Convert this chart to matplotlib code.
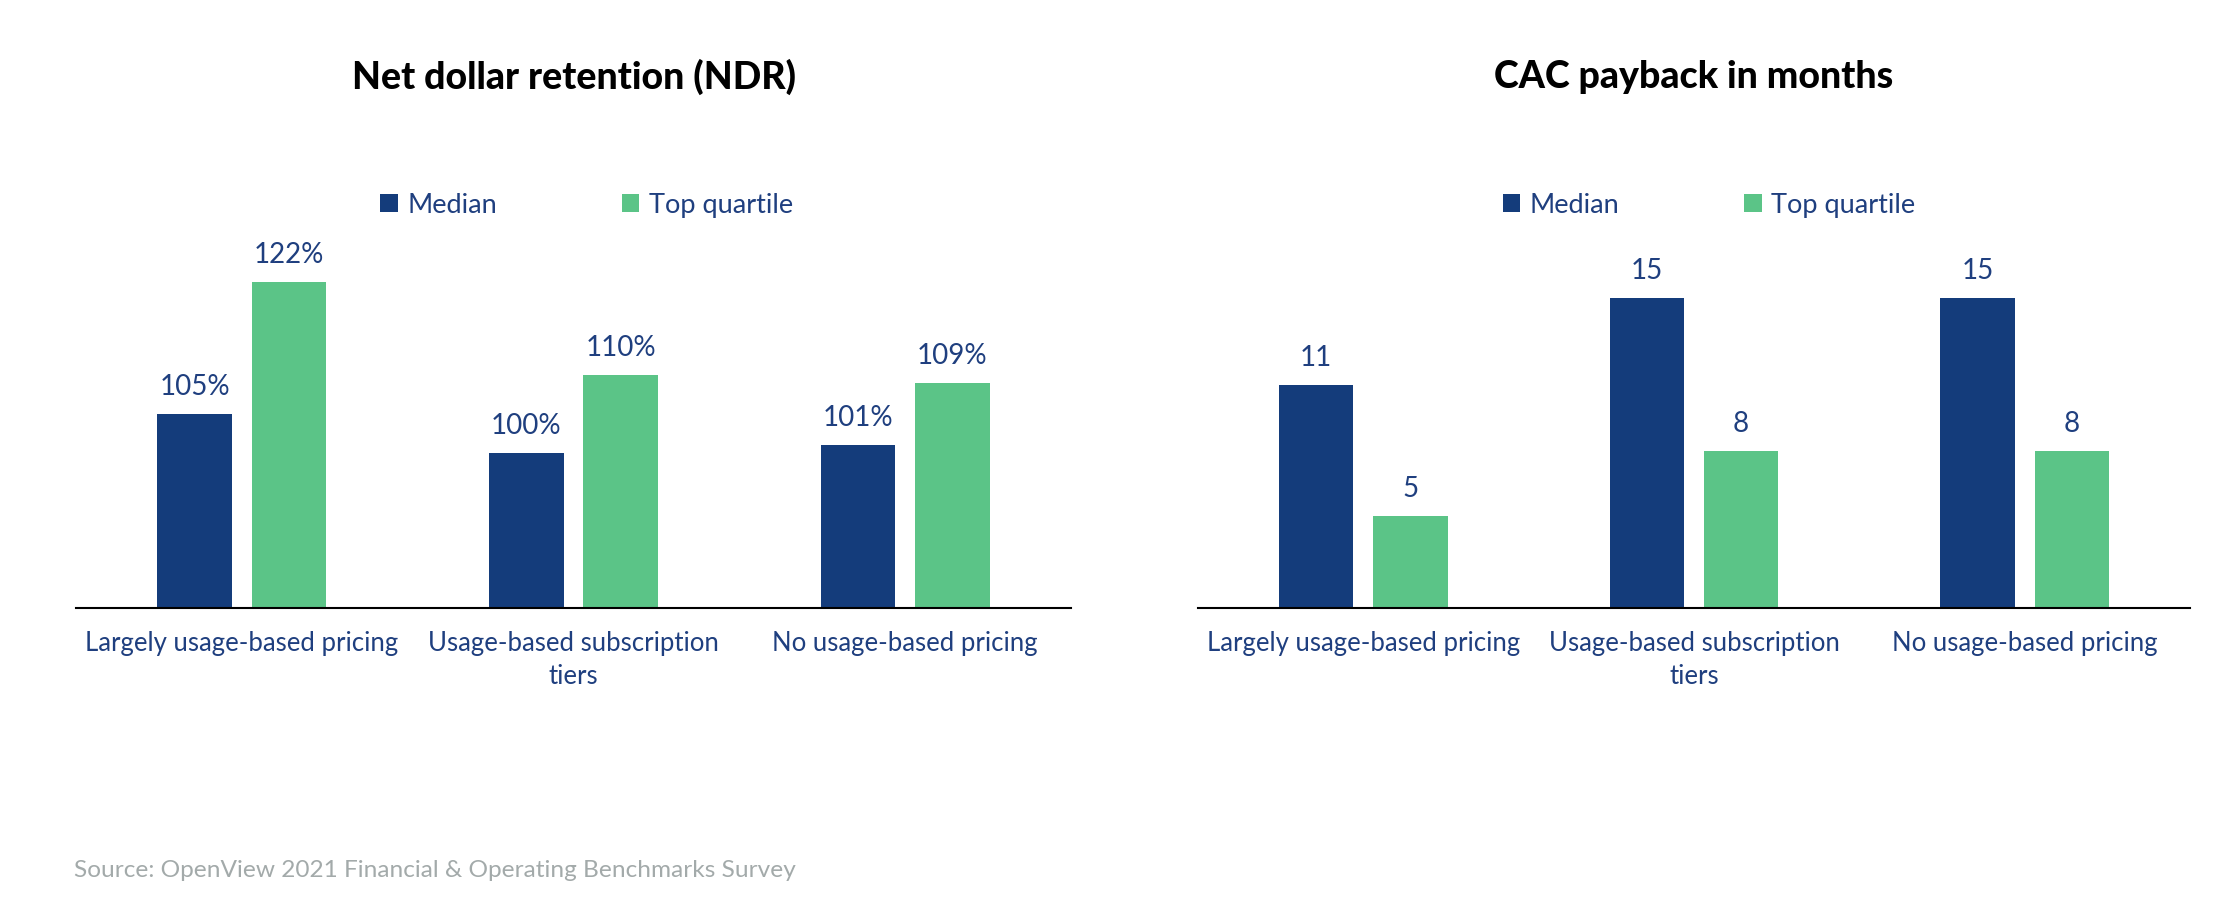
import numpy as np
import matplotlib.pyplot as plt

plt.switch_backend('Agg')

# Veriler
kategoriler = ['Largely usage-based pricing', 'Usage-based subscription\ntiers', 'No usage-based pricing']
ndr_median = [105, 100, 101]
ndr_top = [122, 110, 109]
cac_median = [11, 15, 15]
cac_top = [5, 8, 8]

LACIVERT = '#143C7B'
YESIL = '#5BC487'
YAZI = '#1F3F7F'

plt.rcParams['font.family'] = ['Lato', 'DejaVu Sans']

fig = plt.figure(figsize=(22.28, 9.22), dpi=100)

# eksen yerleşimi (piksel ölçülerinden)
alt = 1 - 607.7 / 922
yuk = (607.7 - 260) / 922
ax1 = fig.add_axes([76 / 2228, alt, 995 / 2228, yuk])
ax2 = fig.add_axes([1198 / 2228, alt, 992 / 2228, yuk])


def ciz(ax, med, top, ylim, baslik, fmt, leg_x):
    x = np.arange(len(kategoriler))
    w = 0.225
    off = 0.1425
    b1 = ax.bar(x - off, med, w, color=LACIVERT, label='Median')
    b2 = ax.bar(x + off, top, w, color=YESIL, label='Top quartile')
    ax.set_ylim(*ylim)
    ax.set_xlim(-0.5, len(kategoriler) - 0.5)
    for bars in (b1, b2):
        for b in bars:
            ax.annotate(fmt.format(b.get_height()),
                        (b.get_x() + b.get_width() / 2, b.get_height()),
                        xytext=(0, 19.5), textcoords='offset points',
                        ha='center', va='center', fontsize=20, color=YAZI)
    for s in ['top', 'left', 'right']:
        ax.spines[s].set_visible(False)
    ax.spines['bottom'].set_linewidth(1.5)
    ax.spines['bottom'].set_color('black')
    ax.set_yticks([])
    ax.set_xticks(x)
    ax.set_xticklabels(kategoriler, fontsize=18.5, color=YAZI, linespacing=1.4)
    ax.tick_params(axis='x', length=0, pad=17)
    ax.text(0.5, 1.526, baslik, transform=ax.transAxes, ha='center', va='center',
            fontsize=27, fontweight='black', color='black')
    ax.legend(loc='center', bbox_to_anchor=(leg_x, 1.158), ncol=2, frameon=False,
              fontsize=19.5, labelcolor=YAZI, handlelength=0.65, handleheight=0.65,
              handletextpad=0.35, columnspacing=4.6)


ciz(ax1, ndr_median, ndr_top, (80.1, 124.85), 'Net dollar retention (NDR)', '{:.0f}%', 0.513)
ciz(ax2, cac_median, cac_top, (0.81, 16.74), 'CAC payback in months', '{:.0f}', 0.515)

fig.text(74 / 2228, 1 - 870 / 922, 'Source: OpenView 2021 Financial & Operating Benchmarks Survey',
         ha='left', va='center', fontsize=17.6, color='#A3AAAA')

fig.savefig('out.png', dpi=100)
